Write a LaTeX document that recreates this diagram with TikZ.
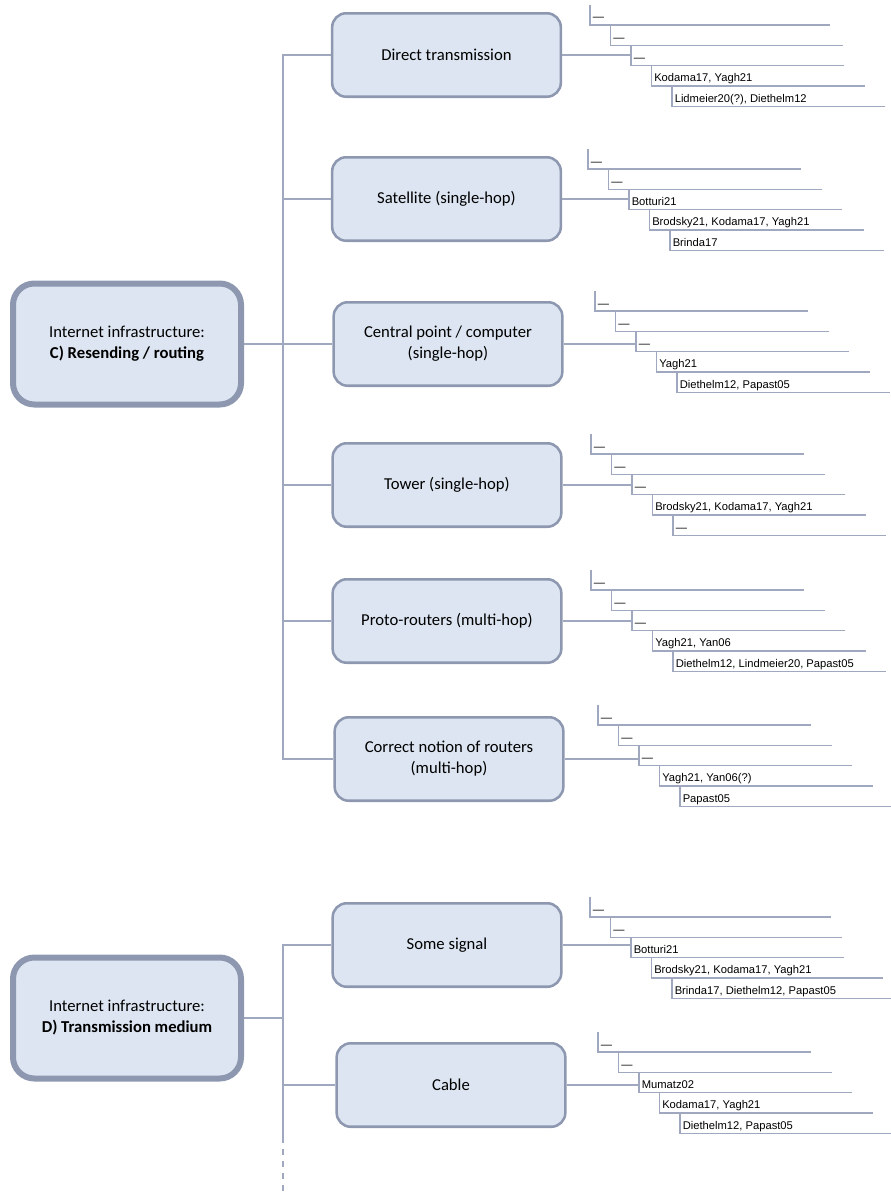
\documentclass[tikz,border=0pt]{standalone}
\usepackage{fontspec}
\setmainfont{Carlito}
\newfontfamily\citefont{Liberation Sans}
\usetikzlibrary{calc}
\definecolor{MapFill}{HTML}{DCE5F1}
\definecolor{MapLine}{HTML}{8D98B0}
\definecolor{MapLink}{HTML}{A0A8C0}

% stepped list of sources: name, corner of first rung, rungs as text/length
\newcommand{\citeladder}[3]{%
  \foreach \lbl/\len [count=\i] in {#3}{
    \coordinate (#1-\i) at ($#2+({(\i-1)*20.5},{(\i-1)*20.3})$);
    \draw[rung] ($(#1-\i)+(0,-20.3)$) |- ($(#1-\i)+(\len,0)$);
    \node[cite] (#1-t\i) at ($(#1-\i)+(2.5,-4)$) {\lbl};
  }}

\begin{document}
\begin{tikzpicture}[x=0.75pt,y=-0.75pt]
    \tikzset{root/.style={rounded corners=16pt,draw=MapLine,line width=4.5pt,fill=MapFill,
      minimum width=171pt,minimum height=90.75pt,align=center,font=\fontsize{12.5}{15.75}\selectfont},
      topic/.style={rounded corners=10.5pt,draw=MapLine,line width=1.9pt,fill=MapFill,
      minimum width=171.5pt,minimum height=62.6pt,align=center,font=\fontsize{12.5}{15.75}\selectfont},
      link/.style={draw=MapLink,line width=1.1pt},
      rung/.style={draw=MapLink,line width=0.9pt},
      cite/.style={anchor=base west,inner sep=0pt,font=\citefont\fontsize{8.4}{10}\selectfont}}
    \useasboundingbox (0,0) rectangle (890,1192);

    % C) resending / routing
    \node[root] (rc) at (127,344) {Internet infrastructure:\\\textbf{C) Resending / routing}};
    \node[topic] (dt) at (446.5,55) {Direct transmission};
    \node[topic] (sat) at (446.5,199) {Satellite (single-hop)};
    \node[topic] (cp) at (448,344) {Central point / computer\\(single-hop)};
    \node[topic] (tw) at (447,485) {Tower (single-hop)};
    \node[topic] (pr) at (447,621) {Proto-routers (multi-hop)};
    \node[topic] (cn) at (449,759) {Correct notion of routers\\(multi-hop)};
    \coordinate (cx) at (283,0);
    \draw[link] (dt.west) -- (dt.west -| cx) -- (cn.west -| cx) -- (cn.west);
    \foreach \b in {sat,cp,tw,pr}
      \draw[link] (\b.west) -- (\b.west -| cx);
    \draw[link] (rc.east) -- (rc.east -| cx);

    % D) transmission medium
    \node[root] (rd) at (127,1018) {Internet infrastructure:\\\textbf{D) Transmission medium}};
    \node[topic] (ss) at (447,945) {Some signal};
    \node[topic] (cb) at (451,1085) {Cable};
    \coordinate (dmid) at (283,1137);
    \coordinate (dend) at (283,1192);
    \draw[link] (ss.west) -| (dmid);
    \draw[link,dash pattern=on 4.5pt off 4.5pt] (dmid) -- (dend);
    \draw[link] (rd.east) -- (rd.east -| cx);
    \draw[link] (cb.west) -- (cb.west -| cx);

    % sources per topic
    \citeladder{dtl}{(590,25)}{—/240,—/232,—/213,{Kodama17, Yagh21}/213,{Lidmeier20(?), Diethelm12}/213}
    \citeladder{satl}{(588,169)}{—/213,—/213,Botturi21/213,{Brodsky21, Kodama17, Yagh21}/214,Brinda17/214}
    \citeladder{cpl}{(595,311)}{—/213,—/213,—/213,Yagh21/213,{Diethelm12, Papast05}/213}
    \citeladder{twl}{(591,454)}{—/213,—/213,—/213,{Brodsky21, Kodama17, Yagh21}/213,—/213}
    \citeladder{prl}{(591,590)}{—/213,—/213,—/213,{Yagh21, Yan06}/213,{Diethelm12, Lindmeier20, Papast05}/213}
    \citeladder{cnl}{(598,725)}{—/213,—/213,—/213,{Yagh21, Yan06(?)}/213,Papast05/213}
    \citeladder{ssl}{(590,917)}{—/241,—/231,Botturi21/213,{Brodsky21, Kodama17, Yagh21}/231,{Brinda17, Diethelm12, Papast05}/230}
    \citeladder{cbl}{(598,1052)}{—/213,—/213,Mumatz02/213,{Kodama17, Yagh21}/213,{Diethelm12, Papast05}/213}
    \foreach \b in {dt,sat,cp,tw,pr,cn,ss,cb}
      \draw[link] (\b.east) -- (\b.east -| \b l-3);
  \end{tikzpicture}
\end{document}
